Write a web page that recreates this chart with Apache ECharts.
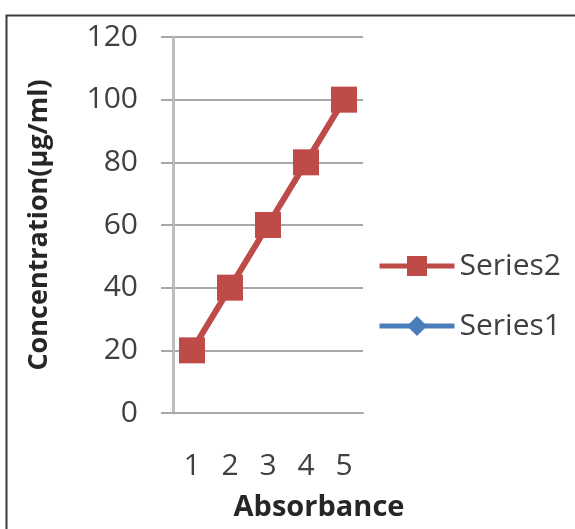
<!DOCTYPE html>
<html>
<head>
<meta charset="utf-8">
<script src="https://cdn.jsdelivr.net/npm/echarts@6/dist/echarts.min.js"></script>
<style>
  html, body { margin: 0; padding: 0; background: #fff; }
  #chart { width: 575px; height: 529px; }
</style>
</head>
<body>
<div id="chart"></div>
<script>
// Calibration data: absorbance steps against concentration
const absorbance = ['1', '2', '3', '4', '5'];
const series1 = [20, 40, 60, 80, 100];
const series2 = [20, 40, 60, 80, 100];
const yTicks = { min: 0, max: 120, step: 20 };

const FONT = '"Open Sans", "Liberation Sans", sans-serif';
const chart = echarts.init(document.getElementById('chart'), null, { renderer: 'canvas' });

chart.setOption({
  backgroundColor: '#ffffff',
  animation: false,
  graphic: [{
    type: 'rect',
    shape: { x: 6.5, y: 15.5, width: 700, height: 600 },
    style: { fill: 'none', stroke: '#3a3a3a', lineWidth: 2 },
    silent: true
  }],
  grid: { left: 173, right: 212, top: 37, bottom: 116 },
  legend: {
    orient: 'vertical',
    left: 377,
    top: 251,
    padding: 0,
    itemWidth: 75,
    itemHeight: 25,
    itemGap: 30,
    data: ['Series2', 'Series1'],
    textStyle: { fontFamily: FONT, fontSize: 30, color: '#404040' },
    lineStyle: { width: 5 }
  },
  xAxis: {
    type: 'category',
    data: absorbance,
    boundaryGap: true,
    name: 'Absorbance',
    nameLocation: 'middle',
    nameGap: 80,
    nameTextStyle: { fontFamily: FONT, fontSize: 29, fontWeight: 'bold', color: '#262626', padding: [0, 0, 0, 102] },
    axisLine: { show: true, lineStyle: { color: '#a8a8a8', width: 2 } },
    axisTick: { show: false },
    axisLabel: { fontFamily: FONT, fontSize: 30, color: '#404040', margin: 38 },
    splitLine: { show: false }
  },
  yAxis: {
    type: 'value',
    min: yTicks.min,
    max: yTicks.max,
    interval: yTicks.step,
    name: 'Concentration(µg/ml)',
    nameLocation: 'middle',
    nameGap: 120,
    nameTextStyle: { fontFamily: FONT, fontSize: 27, fontWeight: 'bold', color: '#262626' },
    axisLine: { show: true, lineStyle: { color: '#bdbdbd', width: 3 } },
    axisTick: { show: true, length: 12, lineStyle: { color: '#a8a8a8', width: 2 } },
    axisLabel: { fontFamily: FONT, fontSize: 30, color: '#404040', margin: 35 },
    splitLine: { show: true, lineStyle: { color: '#a8a8a8', width: 2 } }
  },
  series: [
    {
      name: 'Series1',
      type: 'line',
      data: series1,
      symbol: 'diamond',
      symbolSize: 20,
      color: '#4a7ebb',
      lineStyle: { color: '#4a7ebb', width: 5 },
      itemStyle: { color: '#4a7ebb' },
      z: 2
    },
    {
      name: 'Series2',
      type: 'line',
      data: series2,
      symbol: 'rect',
      symbolSize: 26,
      color: '#be4b48',
      lineStyle: { color: '#be4b48', width: 6 },
      itemStyle: { color: '#be4b48' },
      z: 3
    }
  ]
});
</script>
</body>
</html>
